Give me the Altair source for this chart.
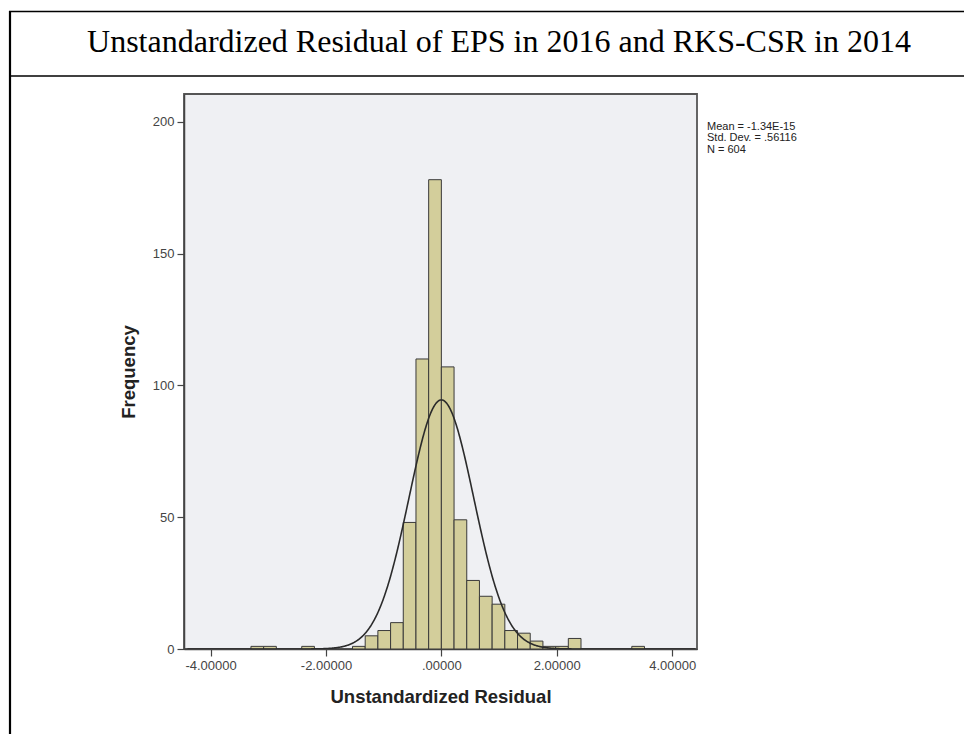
import altair as alt
import pandas as pd

# ---- data ----
title_text = "Unstandardized Residual of EPS in 2016 and RKS-CSR in 2014"
bin_width = 0.22
bin_left = [-3.30, -3.08, -2.42, -1.54, -1.32, -1.10, -0.88, -0.66, -0.44, -0.22,
            0.00, 0.22, 0.44, 0.66, 0.88, 1.10, 1.32, 1.54, 1.76, 1.98, 2.20, 3.30]
counts = [1, 1, 1, 1, 5, 7, 10, 48, 110, 178,
          107, 49, 26, 20, 17, 7, 6, 3, 1, 1, 4, 1]
stat_mean = -1.34e-15
stat_sd = 0.56116
stat_n = 604
stat_lines = ["Mean = -1.34E-15", "Std. Dev. = .56116", "N = 604"]
x_ticks = [-4, -2, 0, 2, 4]
y_ticks = [0, 50, 100, 150, 200]

bars_df = pd.DataFrame({"lo": bin_left, "count": counts})
one = pd.DataFrame({"a": [0]})

xscale = alt.Scale(domain=[-4.46, 4.43], nice=False, zero=False)
yscale = alt.Scale(domain=[0, 210.5], nice=False, zero=False)
xaxis = alt.Axis(
    values=x_ticks, title="Unstandardized Residual",
    labelExpr="datum.value == 0 ? '.00000' : (datum.value < 0 ? '-' : '') + format(abs(datum.value), '.5f')")
yaxis = alt.Axis(values=y_ticks, title="Frequency")

bars = alt.Chart(bars_df).transform_calculate(
    hi=f"datum.lo + {bin_width}"
).mark_rect(fill="#D3CE9B", stroke="#3a3a3a", strokeWidth=1).encode(
    x=alt.X("lo:Q", scale=xscale, axis=xaxis),
    x2="hi:Q",
    y=alt.Y("count:Q", scale=yscale, axis=yaxis),
    y2=alt.datum(0),
)

curve = alt.Chart(alt.sequence(-4.4, 4.41, 0.01, as_="x")).transform_calculate(
    f=f"{stat_n} * {bin_width} * densityNormal(datum.x, {stat_mean}, {stat_sd})"
).mark_line(color="#2b2b2b", strokeWidth=1.6, clip=True).encode(
    x=alt.X("x:Q", scale=xscale, axis=xaxis),
    y=alt.Y("f:Q", scale=yscale, axis=yaxis),
)

stats = alt.Chart(one).mark_text(
    align="left", baseline="alphabetic", font="Liberation Sans", fontSize=11,
    lineHeight=11.3, color="#222222"
).encode(x=alt.value(523), y=alt.value(36), text=alt.value(stat_lines))

title = alt.Chart(one).mark_text(
    align="center", baseline="alphabetic", font="Liberation Serif", fontSize=32,
    color="#000000"
).encode(x=alt.value(315), y=alt.value(-42), text=alt.value(title_text))

frame_left = alt.Chart(one).mark_rule(color="#000000", strokeWidth=2.2).encode(
    x=alt.value(-174), y=alt.value(-83), y2=alt.value(650))
frame_top = alt.Chart(one).mark_rule(color="#000000", strokeWidth=1.6).encode(
    x=alt.value(-175), x2=alt.value(790), y=alt.value(-82.5))
frame_mid = alt.Chart(one).mark_rule(color="#000000", strokeWidth=1.6).encode(
    x=alt.value(-175), x2=alt.value(790), y=alt.value(-18))

chart = alt.layer(bars, curve, stats, title, frame_left, frame_top, frame_mid).properties(
    width=513, height=555,
    autosize=alt.AutoSizeParams(type="none"),
    padding={"left": 176, "top": 86, "right": 267, "bottom": 85},
    background="#ffffff",
).configure_view(
    fill="#EFF0F3", stroke="#555555", strokeWidth=1.8
).configure_axis(
    grid=False,
    domainColor="#444444", domainWidth=1.5,
    tickColor="#444444", tickWidth=1.2, tickSize=7,
    labelFont="Liberation Sans", labelFontSize=13, labelColor="#444444",
    labelPadding=3,
    titleFont="Liberation Sans", titleFontSize=18.5, titleFontWeight="bold",
    titleColor="#222222",
).configure_axisX(titlePadding=15).configure_axisY(titlePadding=14)

chart.save("out.html", embed_options={"renderer": "svg", "actions": False})
